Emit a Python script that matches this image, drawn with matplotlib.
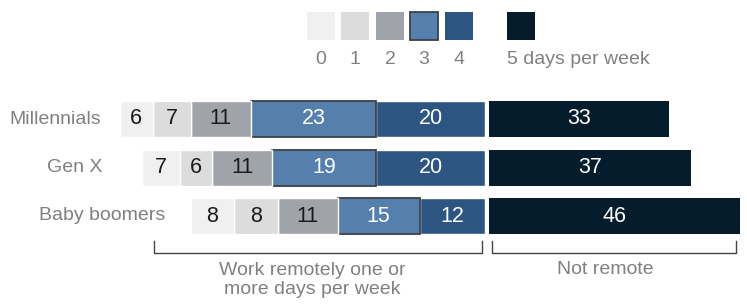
import matplotlib.pyplot as plt
from matplotlib.patches import Rectangle

plt.rcParams['font.family'] = ['Liberation Sans', 'DejaVu Sans']

groups = ['Millennials', 'Gen X', 'Baby boomers']
remote = [[6, 7, 11, 23, 20],
          [7, 6, 11, 19, 20],
          [8, 8, 11, 15, 12]]
not_remote = [33, 37, 46]
legend_labels = ['0', '1', '2', '3', '4', '5 days per week']
colors = ['#f0f0f0', '#dcdcdc', '#a0a3aa', '#5580ad', '#2c5582', '#051c2c']
text_colors = ['#1a1a1a', '#1a1a1a', '#1a1a1a', 'white', 'white', 'white']

W, H = 747, 306
fig = plt.figure(figsize=(W / 100, H / 100), dpi=100)
ax = fig.add_axes([0, 0, 1, 1])
# x in data units (percent), 0 at the gap between remote and not remote
scale = 5.45
x0 = 487
ax.set_xlim(-x0 / scale, (W - x0) / scale)
ax.set_ylim(H, 0)
ax.axis('off')


def px(x):
    return (x - x0) / scale


gap = 2 / scale
bar_h = 36
rows = [119, 167.5, 216]
label_right = [101, 102, 165]
grey = '#808080'

for i, g in enumerate(groups):
    y = rows[i]
    right = -gap
    for k in range(4, -1, -1):
        v = remote[i][k]
        left = right - v
        ec = '#3d4148' if k == 3 else 'white'
        lw = 1.3 if k == 3 else 1
        ax.barh(y, v, left=left, height=bar_h, color=colors[k], edgecolor=ec, linewidth=lw)
        ax.text(left + v / 2, y, str(v), ha='center', va='center', fontsize=15.5,
                color=text_colors[k])
        right = left
    ax.text(px(label_right[i]), y, g, ha='right', va='center', fontsize=14, color=grey)
    v = not_remote[i]
    ax.barh(y, v, left=gap, height=bar_h, color=colors[5], edgecolor='none')
    ax.text(gap + v / 2, y, str(v), ha='center', va='center', fontsize=15.5, color='white')

# legend
leg_x = [307, 341, 376, 410, 445, 507]
for k, lx in enumerate(leg_x):
    ec = '#3d4148' if k == 3 else 'none'
    ax.add_patch(Rectangle((px(lx), 12), 28 / scale, 28, facecolor=colors[k],
                           edgecolor=ec, linewidth=1.3))
    if k < 5:
        ax.text(px(lx + 14), 60, legend_labels[k], ha='center', va='center',
                fontsize=14, color=grey)
    else:
        ax.text(px(lx), 60, legend_labels[k], ha='left', va='center',
                fontsize=14, color=grey)

# brackets
bc = '#444444'
ax.plot([px(154), px(154), px(482), px(482)], [241, 253, 253, 241], color=bc, lw=1)
ax.plot([px(492), px(492), px(736), px(736)], [241, 253, 253, 241], color=bc, lw=1)
ax.text(px(312), 280, 'Work remotely one or\nmore days per week', ha='center', va='center',
        fontsize=14, color=grey, linespacing=1.2)
ax.text(px(605), 269, 'Not remote', ha='center', va='center', fontsize=14, color=grey)

fig.savefig('out.png', dpi=100)
